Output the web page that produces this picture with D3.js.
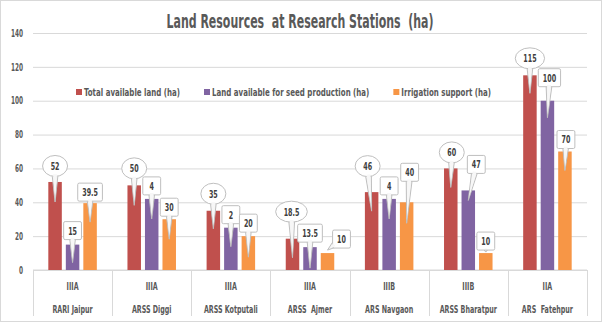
<!DOCTYPE html>
<html>
<head>
<meta charset="utf-8">
<script src="https://cdn.jsdelivr.net/npm/d3@7/dist/d3.min.js"></script>
<style>
  body { margin: 0; background: #fff; }
  text { font-family: 'Liberation Sans Narrow', 'DejaVu Sans Condensed', sans-serif; font-weight: bold; white-space: pre; }
</style>
</head>
<body>
<div id="chart"></div>
<script>
// chart data
var stations = ["RARI Jaipur", "ARSS Diggi", "ARSS Kotputali", "ARSS  Ajmer", "ARS Navgaon", "ARSS Bharatpur", "ARS  Fatehpur"];
var zones = ["IIIA", "IIIA", "IIIA", "IIIA", "IIIB", "IIIB", "IIA"];
var seriesNames = ["Total available land (ha)", "Land available for seed production (ha)", "Irrigation support (ha)"];
var totalLand = [52, 50, 35, 18.5, 46, 60, 115];
var seedLand = [15, 42, 25, 13.5, 42, 47, 100];
var irrigation = [39.5, 30, 20, 10, 40, 10, 70];
// label texts as printed in the callouts (some got clipped in the original)
var totalLabels = ["52", "50", "35", "18.5", "46", "60", "115"];
var seedLabels = ["15", "4", "2", "13.5", "4", "47", "100"];
var irrigationLabels = ["39.5", "30", "20", "10", "40", "10", "70"];
var yTicks = [0, 20, 40, 60, 80, 100, 120, 140];

var colors = ["#C0504D", "#8064A2", "#F79646"];
var seriesValues = [totalLand, seedLand, irrigation];
var seriesLabels = [totalLabels, seedLabels, irrigationLabels];

// callout nudges [dx, dy of box centre from bar top, tip depth below bar top]
var calloutShift = [
  [[0,-16,20],[0,-17,20],[0,-17,18],[-1,-27,19],[-4,-26,19],[1,-16,19],[0,-17,18]],
  [[0,-14,18],[0,-13,20],[0,-13,19],[0,-14,21],[0,-13,20],[8,-26,10],[2,-23,17]],
  [[0,-11,19],[0,-12,20],[0,-13,21],[14,-14,-3],[3,-30,21],[0,-12,-1],[1,-12,19]]
];

var svgWidth = 602, svgHeight = 323;
var plot = { left: 33, right: 587, top: 33, bottom: 270 };

var svg = d3.select("#chart").append("svg")
  .attr("width", svgWidth)
  .attr("height", svgHeight);

// outer chart border
svg.append("rect")
  .attr("x", 0.5).attr("y", 0.5)
  .attr("width", svgWidth - 1).attr("height", svgHeight - 2)
  .attr("fill", "#fff").attr("stroke", "#d9d9d9");

var x0 = d3.scaleBand().domain(stations).range([plot.left, plot.right]);
var x1 = d3.scaleBand().domain(seriesNames).range([0, x0.bandwidth()])
  .paddingInner(0.229).paddingOuter(0.875);
var y = d3.scaleLinear().domain([0, 140]).range([plot.bottom, plot.top]);

// title; squeeze the font to look like the condensed original
var title = svg.append("text")
  .attr("x", 300).attr("y", 28)
  .attr("text-anchor", "middle")
  .attr("font-size", 19)
  .attr("fill", "#595959")
  .text("Land Resources  at Research Stations  (ha)");
var squeeze = 267 / title.node().getComputedTextLength();
// returns the squeezed width of the (last) text
function condense(sel, f) {
  var out = 0;
  sel.each(function() {
    var w = this.getComputedTextLength();
    out = w * f;
    d3.select(this).attr("textLength", out).attr("lengthAdjust", "spacingAndGlyphs");
  });
  return out;
}
condense(title, squeeze);

// y grid + labels
var yAxis = svg.append("g")
  .attr("transform", "translate(" + plot.left + ",0)")
  .call(d3.axisLeft(y).tickValues(yTicks).tickSize(-(plot.right - plot.left)).tickPadding(10));
yAxis.select(".domain").remove();
yAxis.selectAll("line").attr("stroke", "#d9d9d9");
yAxis.selectAll("text").attr("fill", "#595959").attr("font-size", 10)
  .style("font-family", null);
condense(yAxis.selectAll("text"), squeeze);

// x axis with two-level category separators
svg.append("line")
  .attr("x1", plot.left).attr("x2", plot.right)
  .attr("y1", plot.bottom).attr("y2", plot.bottom)
  .attr("stroke", "#d9d9d9");
var bounds = stations.map(function(s) { return x0(s); }).concat([plot.right]);
svg.selectAll(".sep").data(bounds).enter().append("line")
  .attr("x1", d => Math.round(d) + 0.5).attr("x2", d => Math.round(d) + 0.5)
  .attr("y1", plot.bottom).attr("y2", 316)
  .attr("stroke", "#d9d9d9");
var zoneText = svg.selectAll(".zone").data(stations).enter().append("text")
  .attr("x", d => x0(d) + x0.bandwidth() / 2)
  .attr("y", 290)
  .attr("text-anchor", "middle")
  .attr("font-size", 11)
  .attr("fill", "#595959")
  .text((d, i) => zones[i]);
condense(zoneText, squeeze);
var stText = svg.selectAll(".stn").data(stations).enter().append("text")
  .attr("x", d => x0(d) + x0.bandwidth() / 2)
  .attr("y", 313)
  .attr("text-anchor", "middle")
  .attr("font-size", 11)
  .attr("fill", "#595959")
  .text(d => d);
condense(stText, squeeze);

// bars
seriesNames.forEach(function(name, si) {
  svg.append("g").selectAll("rect")
    .data(seriesValues[si]).enter().append("rect")
    .attr("x", (d, i) => x0(stations[i]) + x1(name))
    .attr("y", d => y(d))
    .attr("width", x1.bandwidth())
    .attr("height", d => y(0) - y(d))
    .attr("fill", colors[si]);
});

// legend (the original is letter-spaced, so it runs wider)
var lx = 76, legendSqueeze = null;
seriesNames.forEach(function(name, si) {
  svg.append("rect").attr("x", lx).attr("y", 89).attr("width", 6).attr("height", 6).attr("fill", colors[si]);
  var t = svg.append("text").attr("x", lx + 8).attr("y", 95.5)
    .attr("font-size", 10).attr("fill", "#595959").text(name);
  if (legendSqueeze === null) legendSqueeze = 96 / t.node().getComputedTextLength();
  var w = condense(t, legendSqueeze);
  lx = lx + 8 + w + 24;
});

// callouts: ellipses for the first series, boxes for the others
var calloutLayer = svg.append("g");
seriesNames.forEach(function(name, si) {
  seriesValues[si].forEach(function(v, i) {
    var sh = calloutShift[si][i];
    var bx = x0(stations[i]) + x1(name) + x1.bandwidth() / 2;
    var top = y(v);
    var cx = bx + sh[0], cy = top + sh[1];
    var tipX = bx, tipY = top + sh[2];
    var g = calloutLayer.append("g");
    var wedge = g.append("path");
    var shape = g.append(si === 0 ? "ellipse" : "rect");
    var cover = g.append("path");
    var label = g.append("text")
      .attr("x", cx).attr("y", cy).attr("dy", "0.36em")
      .attr("text-anchor", "middle")
      .attr("font-size", 11)
      .attr("fill", "#404040")
      .text(seriesLabels[si][i]);
    condense(label, squeeze);
    // size the box on the full value
    var probe = g.append("text").attr("font-size", 11).text(String(v));
    var tw = probe.node().getComputedTextLength() * squeeze;
    probe.remove();

    var hw, hh, t;
    var dx = tipX - cx, dy = tipY - cy;
    if (si === 0) {
      hw = Math.max(12.5, tw / 2 + 8); hh = 10.5;
      shape.attr("cx", cx).attr("cy", cy).attr("rx", hw).attr("ry", hh);
      t = 1 / Math.sqrt((dx / hw) * (dx / hw) + (dy / hh) * (dy / hh));
    } else {
      hw = Math.max(8.5, tw / 2 + 4.5); hh = 9;
      shape.attr("x", cx - hw).attr("y", cy - hh).attr("width", hw * 2).attr("height", hh * 2).attr("rx", 1.5);
      t = Math.min(hw / Math.max(Math.abs(dx), 0.001), hh / Math.max(Math.abs(dy), 0.001));
    }
    shape.attr("fill", "#fff").attr("stroke", "#bfbfbf").attr("stroke-width", 1);
    var len = Math.sqrt(dx * dx + dy * dy);
    var ux = dx / len, uy = dy / len;
    var baseX = cx + dx * t * 0.8, baseY = cy + dy * t * 0.8;
    var spread = 3;
    var p = "M" + (baseX - uy * spread) + "," + (baseY + ux * spread) +
      "L" + tipX + "," + tipY +
      "L" + (baseX + uy * spread) + "," + (baseY - ux * spread) + "Z";
    wedge.attr("d", p).attr("fill", "#f0f0f0").attr("stroke", "#bfbfbf").attr("stroke-width", 1);
    var inner = "M" + (baseX - uy * (spread - 1)) + "," + (baseY + ux * (spread - 1)) +
      "L" + (tipX - ux * 3) + "," + (tipY - uy * 3) +
      "L" + (baseX + uy * (spread - 1)) + "," + (baseY - ux * (spread - 1)) + "Z";
    cover.attr("d", inner).attr("fill", "#f7f7f7");
  });
});
</script>
</body>
</html>
